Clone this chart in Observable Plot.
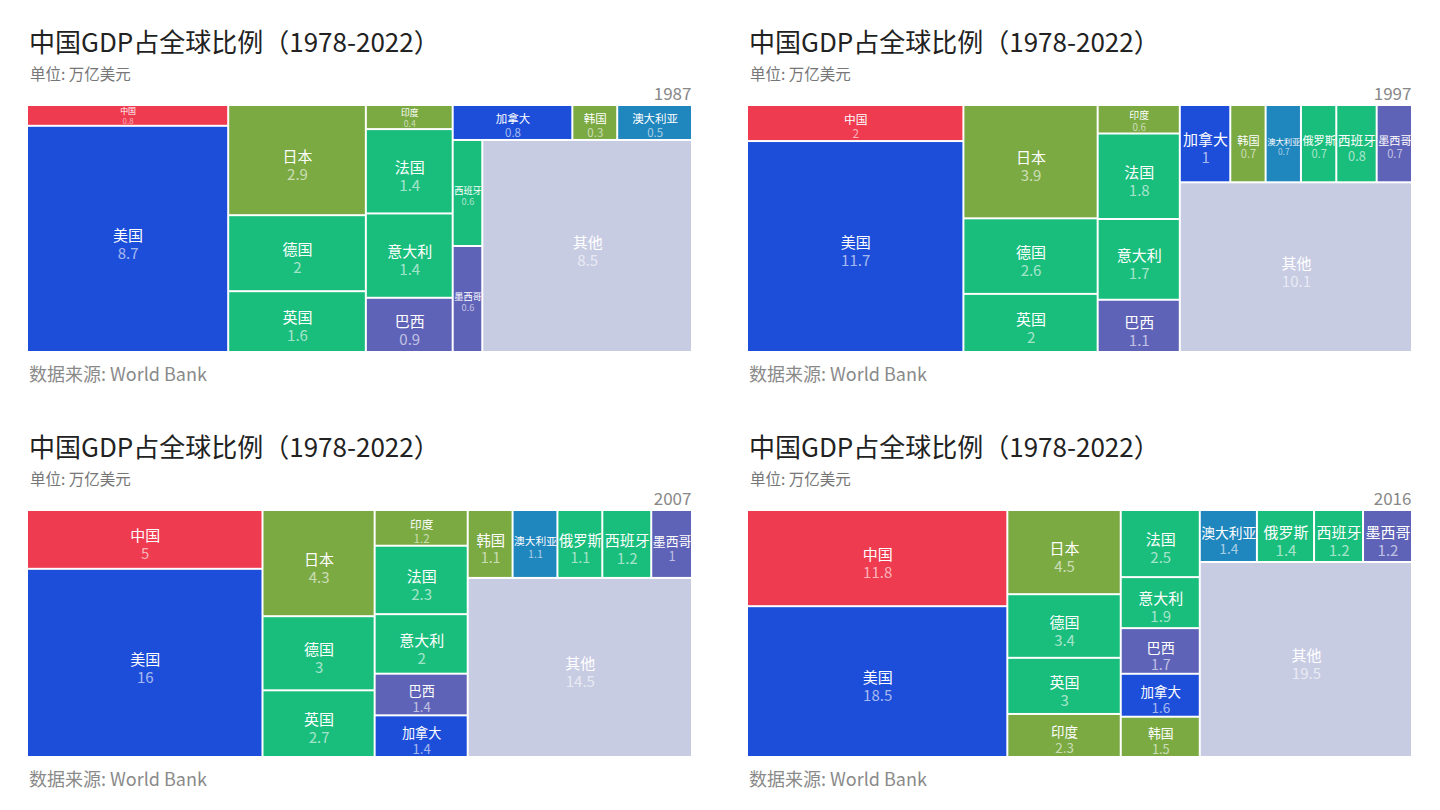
<!DOCTYPE html>
<html>
<head>
<meta charset="utf-8">
<script src="https://cdn.jsdelivr.net/npm/d3@7"></script>
<script src="https://cdn.jsdelivr.net/npm/@observablehq/plot@0.6"></script>
<style>
  html, body { margin: 0; padding: 0; background: #fff; }
  body { width: 1440px; height: 810px; position: relative; overflow: hidden;
         font-family: "Noto Sans CJK SC", "Noto Sans", sans-serif; }
  .cell { position: absolute; width: 720px; height: 405px; }
  .title { position: absolute; left: 29px; top: 28px; font-size: 26px; line-height: 26px; color: #222; white-space: nowrap; }
  .sub { position: absolute; left: 30px; top: 66px; font-size: 15.5px; line-height: 15.5px; color: #777; white-space: nowrap; }
  .cap { position: absolute; left: 29px; top: 364px; font-size: 18px; line-height: 18px; color: #8a8a8a; white-space: nowrap; }
  .chart { position: absolute; left: 0; top: 80px; }
</style>
</head>
<body>
<script>
const titleText = "中国GDP占全球比例（1978-2022）";
const subtitleText = "单位: 万亿美元";
const captionText = "数据来源: World Bank";

const countries = ["中国","美国","日本","德国","英国","印度","法国","意大利","巴西","加拿大","韩国","澳大利亚","俄罗斯","西班牙","墨西哥","其他"];
const countryColors = ["#EF3B50","#1D4ED9","#7BAA43","#19BE7C","#19BE7C","#7BAA43","#19BE7C","#19BE7C","#5F63B8","#1D4ED9","#7BAA43","#1F86BE","#19BE7C","#19BE7C","#5F63B8","#C8CCE3"];

const years = [1987, 1997, 2007, 2016];
const gdp1987 = [0.8, 8.7, 2.9, 2, 1.6, 0.4, 1.4, 1.4, 0.9, 0.8, 0.3, 0.5, null, 0.6, 0.6, 8.5];
const gdp1997 = [2, 11.7, 3.9, 2.6, 2, 0.6, 1.8, 1.7, 1.1, 1, 0.7, 0.7, 0.7, 0.8, 0.7, 10.1];
const gdp2007 = [5, 16, 4.3, 3, 2.7, 1.2, 2.3, 2, 1.4, 1.4, 1.1, 1.1, 1.1, 1.2, 1, 14.5];
const gdp2016 = [11.8, 18.5, 4.5, 3.4, 3, 2.3, 2.5, 1.9, 1.7, 1.6, 1.5, 1.4, 1.4, 1.2, 1.2, 19.5];
const series = [gdp1987, gdp1997, gdp2007, gdp2016];

// treemap row grouping (number of countries per squarified row, as in the animated original)
const rows1987 = [2, 3, 4, 3, 2, 1];
const rows1997 = [2, 3, 4, 6, 1];
const rows2007 = [2, 3, 5, 5, 1];
const rows2016 = [2, 4, 5, 4, 1];
const rowGroups = [rows1987, rows1997, rows2007, rows2016];

const W = 663, H = 245;

function tileRows(sizes) {
  return (parent, x0, y0, x1, y1) => {
    const nodes = parent.children;
    let value = parent.value, i = 0;
    for (const k of sizes) {
      const kids = nodes.slice(i, i + k);
      i += k;
      const row = {children: kids, value: d3.sum(kids, d => d.value)};
      const dx = x1 - x0, dy = y1 - y0;
      if (dx < dy) {
        const y = value ? y0 + dy * row.value / value : y1;
        d3.treemapDice(row, x0, y0, x1, y);
        y0 = y;
      } else {
        const x = value ? x0 + dx * row.value / value : x1;
        d3.treemapSlice(row, x0, y0, x, y1);
        x0 = x;
      }
      value -= row.value;
    }
  };
}

function panel(year, values, rows) {
  const data = countries.map((c, i) => ({name: c, value: values[i]})).filter(d => d.value != null);
  const root = d3.hierarchy({children: data}).sum(d => d.value || 0);
  d3.treemap().size([W, H]).paddingInner(2).tile(tileRows(rows))(root);
  const leaves = root.leaves().map(l => {
    const w = l.x1 - l.x0, h = l.y1 - l.y0;
    const n = Math.max(3, l.data.name.length);
    const fs = Math.max(5, Math.min(15, w / n, 0.25 * h + 3.25));
    const s = Math.max(0, Math.min(0.3 * fs, (h - 2.4 * fs) / 2));
    const cx = (l.x0 + l.x1) / 2, cy = (l.y0 + l.y1) / 2;
    return {name: l.data.name, value: l.data.value, x0: l.x0, x1: l.x1, y0: l.y0, y1: l.y1,
            fs, cx, ly: cy + s, label: l.data.name + "\n" + String(l.data.value)};
  });
  const svg = Plot.plot({
    width: 720, height: 275,
    marginLeft: 28, marginRight: 29, marginTop: 26, marginBottom: 4,
    style: {fontFamily: "'Noto Sans CJK SC', 'Noto Sans', sans-serif", background: "transparent"},
    x: {domain: [0, W], axis: null},
    y: {domain: [0, H], reverse: true, axis: null},
    color: {domain: countries, range: countryColors},
    marks: [
      Plot.rect(leaves, {x1: "x0", x2: "x1", y1: "y0", y2: "y1", fill: "name"}),
      Plot.text(leaves, {x: "cx", y: "ly", text: "label", fill: "white", fontSize: "fs", lineHeight: 1.2, lineAnchor: "middle", ariaLabel: "cell-label"}),
      Plot.text([year], {frameAnchor: "top-right", text: d => String(d), dy: -7, lineAnchor: "bottom", fontSize: 17, fill: "#888"})
    ]
  });
  // value line is drawn lighter than the name line
  svg.querySelectorAll("text > tspan:nth-of-type(2)").forEach(t => t.setAttribute("fill-opacity", "0.62"));
  return svg;
}

years.forEach((yr, i) => {
  const cell = document.createElement("div");
  cell.className = "cell";
  cell.style.left = (i % 2) * 720 + "px";
  cell.style.top = Math.floor(i / 2) * 405 + "px";
  const t = document.createElement("div"); t.className = "title"; t.textContent = titleText;
  const s = document.createElement("div"); s.className = "sub"; s.textContent = subtitleText;
  const c = document.createElement("div"); c.className = "cap"; c.textContent = captionText;
  const ch = document.createElement("div"); ch.className = "chart";
  ch.appendChild(panel(yr, series[i], rowGroups[i]));
  cell.append(t, s, ch, c);
  document.body.appendChild(cell);
});
</script>
</body>
</html>
